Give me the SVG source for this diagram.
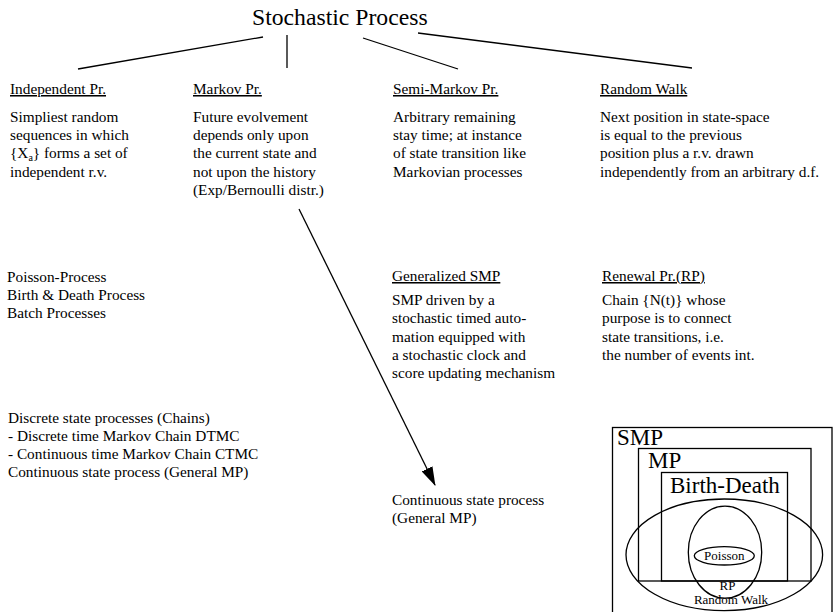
<svg xmlns="http://www.w3.org/2000/svg" width="834" height="612" viewBox="0 0 834 612">
<style>
text{font-family:"Liberation Serif","Times New Roman",serif;fill:#000;font-size:15.3px}
.h{text-decoration:underline}
.t{font-size:23.7px}
.big{font-size:23px}
.sm{font-size:13px}
.ln{stroke:#000;stroke-width:1.3;fill:none}
</style>
<defs>
<marker id="ah" markerUnits="userSpaceOnUse" markerWidth="19" markerHeight="12" refX="18" refY="6" orient="auto">
<path d="M0,0 L19,6 L0,12 z" fill="#000"/>
</marker>
</defs>
<g id="connectors">
<line class="ln" x1="263" y1="37" x2="78" y2="69"/>
<line class="ln" x1="287" y1="35" x2="287" y2="68"/>
<line class="ln" x1="363" y1="38" x2="458" y2="69"/>
<line class="ln" x1="418" y1="33" x2="692" y2="68"/>
<line class="ln" x1="299" y1="209" x2="435" y2="485" marker-end="url(#ah)"/>
</g>
<g id="title"><text class="t" x="252" y="25">Stochastic Process</text></g>
<g id="independent">
<text class="h" x="10" y="94">Independent Pr.</text>
<text x="10" y="121.7">Simpliest random</text>
<text x="10" y="140">sequences in which</text>
<text x="10" y="158.3">{X<tspan dy="3" font-size="10">a</tspan><tspan dy="-3">} forms a set of</tspan></text>
<text x="10" y="176.6">independent r.v.</text>
</g>
<g id="markov">
<text class="h" x="193" y="94">Markov Pr.</text>
<text x="193" y="121.7">Future evolvement</text>
<text x="193" y="140">depends only upon</text>
<text x="193" y="158.3">the current state and</text>
<text x="193" y="176.6">not upon the history</text>
<text x="193" y="194.9">(Exp/Bernoulli distr.)</text>
</g>
<g id="semimarkov">
<text class="h" x="393" y="94">Semi-Markov Pr.</text>
<text x="393" y="121.7">Arbitrary remaining</text>
<text x="393" y="140">stay time; at instance</text>
<text x="393" y="158.3">of state transition like</text>
<text x="393" y="176.6">Markovian processes</text>
</g>
<g id="randomwalk">
<text class="h" x="600" y="94">Random Walk</text>
<text x="600" y="121.7">Next position in state-space</text>
<text x="600" y="140">is equal to the previous</text>
<text x="600" y="158.3">position plus a r.v. drawn</text>
<text x="600" y="176.6">independently from an arbitrary d.f.</text>
</g>
<g id="examples">
<text x="7" y="281.7">Poisson-Process</text>
<text x="7" y="299.7">Birth &amp; Death Process</text>
<text x="7" y="317.7">Batch Processes</text>
</g>
<g id="generalized">
<text class="h" x="392" y="281">Generalized SMP</text>
<text x="392" y="305">SMP driven by a</text>
<text x="392" y="323.3">stochastic timed auto-</text>
<text x="392" y="341.6">mation equipped with</text>
<text x="392" y="359.9">a stochastic clock and</text>
<text x="392" y="378.2">score updating mechanism</text>
</g>
<g id="renewal">
<text class="h" x="602" y="281">Renewal Pr.(RP)</text>
<text x="602" y="305">Chain {N(t)} whose</text>
<text x="602" y="323.3">purpose is to connect</text>
<text x="602" y="341.6">state transitions, i.e.</text>
<text x="602" y="359.9">the number of events int.</text>
</g>
<g id="chains">
<text x="8" y="423.3">Discrete state processes (Chains)</text>
<text x="8" y="441.2">- Discrete time Markov Chain DTMC</text>
<text x="8" y="459">- Continuous time Markov Chain CTMC</text>
<text x="8" y="476.8">Continuous state process (General MP)</text>
</g>
<g id="continuous">
<text x="392" y="505">Continuous state process</text>
<text x="392" y="523.3">(General MP)</text>
</g>
<g id="venn">
<rect class="ln" x="612.5" y="427.5" width="219.5" height="200"/>
<text class="big" x="617" y="445">SMP</text>
<rect class="ln" x="638.5" y="448.5" width="172.5" height="132.5"/>
<text class="big" x="648" y="468.3">MP</text>
<rect class="ln" x="661.5" y="472.5" width="126" height="108.5"/>
<text class="big" x="670" y="493.3">Birth-Death</text>
<ellipse class="ln" cx="724.3" cy="554.8" rx="98.3" ry="55.8"/>
<ellipse class="ln" cx="725" cy="552.2" rx="36.7" ry="46"/>
<ellipse class="ln" cx="724.3" cy="555.8" rx="30" ry="9.2"/>
<text class="sm" x="724.3" y="559.8" text-anchor="middle">Poisson</text>
<text class="sm" x="727.5" y="590" text-anchor="middle">RP</text>
<text class="sm" x="731" y="604" text-anchor="middle">Random Walk</text>
</g>
</svg>
